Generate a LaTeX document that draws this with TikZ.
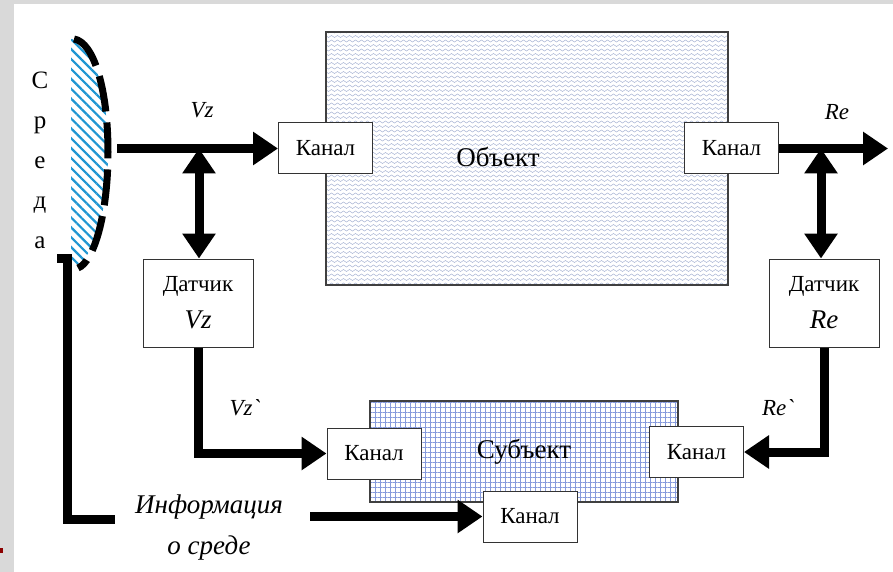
\documentclass[tikz,border=0pt]{standalone}
\usepackage{fontspec}
\setmainfont{Liberation Serif}
\usetikzlibrary{arrows.meta,patterns,patterns.meta}
\definecolor{frame}{HTML}{D9D9D9}
\definecolor{hatch}{RGB}{30,150,210}
\definecolor{wave}{RGB}{165,178,210}
\definecolor{grid}{RGB}{135,155,220}
\tikzdeclarepattern{
    name=wavy,
    type=uncolored,
    bounding box={(-0.5pt,-1.5pt) and (6.5pt,1.5pt)},
    tile size={(6pt,4.5pt)},
    code={
        \draw[line width=0.45pt] (0pt,0pt) sin (1.5pt,1pt) cos (3pt,0pt) sin (4.5pt,-1pt) cos (6pt,0pt);
    }
}
\tikzset{
    kanal/.style={draw=black!80, line width=1pt, fill=white, minimum width=94pt, minimum height=51pt, inner sep=0pt, font=\fontsize{23}{26}\selectfont},
    sensor/.style={kanal, minimum width=110pt, minimum height=88pt, align=center, font=\fontsize{23}{37}\selectfont},
    block/.style={draw=black!75, line width=1.2pt, inner sep=0pt, font=\fontsize{27}{30}\selectfont},
    lbl/.style={font=\itshape\fontsize{23}{25}\selectfont},
    flow/.style={line width=9pt, -{Triangle[length=25pt,width=32pt]}},
    both/.style={line width=9pt, {Triangle[length=25pt,width=32pt]}-{Triangle[length=25pt,width=32pt]}},
    wire/.style={line width=9pt},
    envline/.style={line width=7pt, dash pattern=on 36pt off 11pt}
}
\begin{document}
\begin{tikzpicture}[x=1pt,y=-1pt]
\useasboundingbox (0,0) rectangle (893,572);
\fill[white] (0,0) rectangle (893,572);
\fill[frame] (0,0) rectangle (14,572);
\fill[frame] (0,0) rectangle (893,4);
\fill[red!55!black] (0,548) rectangle (3,553);

\fill[pattern={Lines[angle=-45,distance=7pt,line width=2.2pt]}, pattern color=hatch]
    (71,39) .. controls (92,39) and (108,90) .. (108,152) .. controls (108,214) and (92,266) .. (71,266) -- cycle;
\draw[envline] (74,39) .. controls (94,42) and (108,90) .. (108,152) .. controls (108,214) and (94,262) .. (78,268);
\node[font=\fontsize{25}{40}\selectfont, align=center] at (40,160) (sreda) {С\\р\\е\\д\\а};

\node[block, minimum width=402pt, minimum height=253pt, pattern=wavy, pattern color=wave] at (527,158.5) (obj) {};
\node[block, draw=none] at (498,157) (objtxt) {Объект};
\node[block, minimum width=308pt, minimum height=101pt, pattern={Hatch[angle=0,distance=5pt,line width=0.6pt]}, pattern color=grid] at (524,451.5) (subj) {Субъект};

\node[kanal] at (325.5,148.5) (kan1) {Канал};
\node[kanal] at (731.5,148.5) (kan2) {Канал};
\node[kanal] at (374,453.5) (kan3) {Канал};
\node[kanal] at (696.5,452) (kan4) {Канал};
\node[kanal] at (530,516.5) (kan5) {Канал};

\node[sensor] at (198,303) (dvz) {Датчик\\{\itshape\fontsize{27}{37}\selectfont Vz}};
\node[sensor] at (824,303) (dre) {Датчик\\{\itshape\fontsize{27}{37}\selectfont Re}};

\coordinate (envR) at (117,148.5);
\coordinate (jvz) at (199,148.5);
\coordinate (out) at (888,148.5);
\coordinate (jre) at (821,148.5);
\coordinate (envB) at (57,258);
\coordinate (infoL) at (115,519);
\coordinate (infoR) at (310,516.5);

\draw[flow] (envR) -- (kan1.west);
\draw[both] (jvz) -- (jvz |- dvz.north);
\draw[flow] (kan2.east) -- (out);
\draw[both] (jre) -- (jre |- dre.north);
\draw[flow] (dvz.south) |- (kan3.west);
\draw[flow] (dre.south) |- (kan4.east);
\draw[wire] (envB) -- ++(10,0) |- (infoL);
\draw[flow] (infoR) -- (kan5.west);

\node[lbl] at (202,110) (lvz) {Vz};
\node[lbl] at (837,112) (lre) {Re};
\node[lbl] at (245,408) (lvz2) {Vz\textasciigrave};
\node[lbl] at (778,408) (lre2) {Re\textasciigrave};
\node[lbl, align=center, font=\itshape\fontsize{27}{41}\selectfont] at (209,528) (info) {Информация\\о среде};
\end{tikzpicture}
\end{document}
